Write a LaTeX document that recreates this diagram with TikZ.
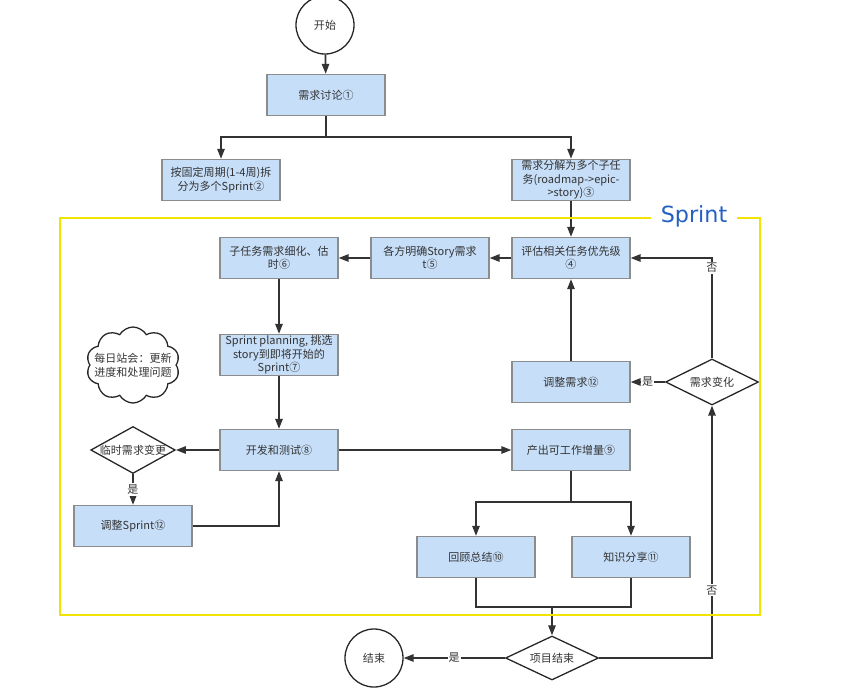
\documentclass[tikz,border=0pt]{standalone}
\usepackage{fontspec}
\newfontfamily\cjk{Noto Sans CJK SC}
\newfontfamily\sprintfont{DejaVu Sans}
\usetikzlibrary{arrows.meta,shapes.geometric,shapes.symbols}
\definecolor{boxblue}{HTML}{C6DEF8}
\definecolor{boxgray}{HTML}{8C8C8C}
\definecolor{linegray}{HTML}{333333}
\definecolor{sprintyellow}{HTML}{F2E400}
\definecolor{sprintblue}{HTML}{2360C4}
\tikzset{
  task/.style={draw=boxgray, fill=boxblue, line width=1.1pt, minimum width=3.54cm, minimum height=1.23cm,
    align=center, inner sep=1pt, text=linegray, font=\cjk\fontsize{9.4}{11.5}\selectfont},
  decision/.style={diamond, draw=black!85, fill=white, line width=1.1pt, aspect=1.8, inner sep=0pt,
    minimum width=2.5cm, minimum height=1.38cm, text=linegray, font=\cjk\fontsize{9.4}{11.5}\selectfont},
  terminal/.style={circle, draw=black!85, line width=1.1pt, minimum size=1.74cm, text=linegray,
    font=\cjk\fontsize{9.4}{11.5}\selectfont},
  flow/.style={draw=linegray, line width=1.5pt, -{Triangle[length=3mm,width=2.2mm]}},
  plain/.style={draw=linegray, line width=1.5pt},
  lbl/.style={fill=white, inner sep=1pt, text=linegray, font=\cjk\fontsize{9.4}{11.5}\selectfont}
}
\begin{document}
\begin{tikzpicture}[x=0.03cm,y=-0.03cm]
  \useasboundingbox (0,0) rectangle (854,687);
  \node[terminal] (start) at (325,25) {开始};
  \node[task] (discuss) at (326,95) {需求讨论①};
  \node[task] (split) at (221,180) {按固定周期(1-4周)拆\\分为多个Sprint②};
  \node[task] (decomp) at (571,180) {需求分解为多个子任\\务(roadmap->epic-\\>story)③};
  \node[task] (rank) at (571,258) {评估相关任务优先级\\④};
  \node[task] (clarify) at (430,258) {各方明确Story需求\\t⑤};
  \node[task] (refine) at (279,258) {子任务需求细化、估\\时⑥};
  \node[task] (plan) at (279,355) {Sprint planning, 挑选\\story到即将开始的\\Sprint⑦};
  \node[task] (dev) at (279,450) {开发和测试⑧};
  \node[decision] (tempchg) at (133,450) {临时需求变更};
  \node[task] (adjsprint) at (133,526) {调整Sprint⑫};
  \node[task] (output) at (571,450) {产出可工作增量⑨};
  \node[task] (adjreq) at (571,382) {调整需求⑫};
  \node[decision, minimum width=2.79cm] (reqchg) at (712,382) {需求变化};
  \node[task] (review) at (476,557) {回顾总结⑩};
  \node[task] (share) at (631,557) {知识分享⑪};
  \node[decision, minimum width=2.79cm, minimum height=1.32cm] (projend) at (552,658) {项目结束};
  \node[terminal] (finish) at (374,658) {结束};
  \node[cloud, cloud puffs=10, cloud puff arc=120, draw=black!85, line width=1.1pt,
    minimum width=2.8cm, minimum height=2.28cm, inner sep=0pt] (standup) at (133,365) {};
  \node[align=center, inner sep=0pt, text=linegray, font=\cjk\fontsize{9.4}{12}\selectfont]
    (standuptext) at (standup.center) {每日站会：更新\\进度和处理问题};

  \coordinate (fork1) at (326,137);
  \coordinate (fork2) at (571,502);
  \coordinate (join) at (552,607);

  \draw[flow] (start) -- (discuss);
  \draw[plain] (discuss) -- (fork1);
  \draw[flow] (fork1) -| (split);
  \draw[flow] (fork1) -| (decomp);
  \draw[flow] (decomp) -- (rank);
  \draw[flow] (rank) -- (clarify);
  \draw[flow] (clarify) -- (refine);
  \draw[flow] (refine) -- (plan);
  \draw[flow] (plan) -- (dev);
  \draw[flow] (dev) -- (tempchg);
  \draw[flow] (tempchg) -- node[lbl]{是} (adjsprint);
  \draw[flow] (adjsprint) -| (dev);
  \draw[flow] (dev) -- (output);
  \draw[plain] (output) -- (fork2);
  \draw[flow] (fork2) -| (review);
  \draw[flow] (fork2) -| (share);
  \draw[plain] (review) |- (join) -| (share);
  \draw[flow] (join) -- (projend);
  \draw[flow] (projend) -- node[lbl]{是} (finish);
  \draw[flow] (projend) -| node[lbl, pos=0.634]{否} (reqchg);
  \draw[flow] (reqchg) -- node[lbl]{是} (adjreq);
  \draw[flow] (reqchg) |- node[lbl, pos=0.45]{否} (rank);
  \draw[flow] (adjreq) -- (rank);

  \draw[sprintyellow, line width=1.6pt] (60,218) rectangle (760,615);
  \node[fill=white, inner xsep=0.3cm, inner ysep=1pt, text=sprintblue, font=\sprintfont\fontsize{19}{22}\selectfont]
    (sprint) at (694,216) {Sprint};
\end{tikzpicture}
\end{document}
